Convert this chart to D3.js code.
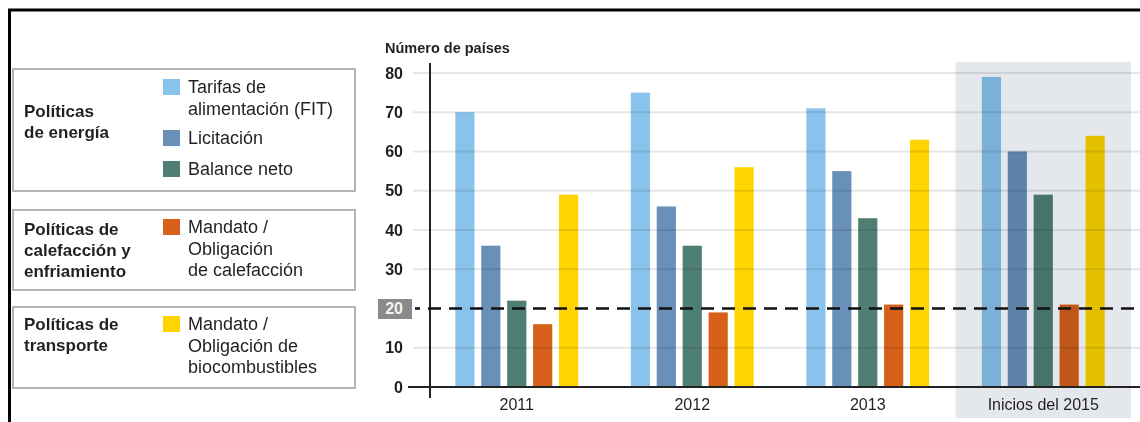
<!DOCTYPE html>
<html>
<head>
<meta charset="utf-8">
<script src="https://cdn.jsdelivr.net/npm/d3@7"></script>
<style>
  body { margin: 0; background: #fff; }
  svg { display: block; font-family: "Liberation Sans", Arial, sans-serif; }
</style>
</head>
<body>
<div id="chart"></div>
<script>
// data
const years = ["2011", "2012", "2013", "Inicios del 2015"];
const seriesKeys = ["fit", "licitacion", "balance", "calefaccion", "biocombustibles"];
const fit = [70, 75, 71, 79];
const licitacion = [36, 46, 55, 60];
const balanceNeto = [22, 36, 43, 49];
const calefaccion = [16, 19, 21, 21];
const biocombustibles = [49, 56, 63, 64];
const yTicks = [0, 10, 20, 30, 40, 50, 60, 70, 80];
const threshold = 20;
const highlightYear = "Inicios del 2015";

const groupTitles = [
  ["Políticas", "de energía"],
  ["Políticas de", "calefacción y", "enfriamiento"],
  ["Políticas de", "transporte"]
];
const seriesLabels = [
  ["Tarifas de", "alimentación (FIT)"],
  ["Licitación"],
  ["Balance neto"],
  ["Mandato /", "Obligación", "de calefacción"],
  ["Mandato /", "Obligación de", "biocombustibles"]
];
const colors = ["#89c3eb", "#6890b8", "#4e7f72", "#d65f1a", "#ffd400"];

const values = [fit, licitacion, balanceNeto, calefaccion, biocombustibles];
const data = years.map((yr, i) => ({
  year: yr,
  bars: seriesKeys.map((k, j) => ({ key: k, value: values[j][i], color: colors[j] }))
}));

const width = 1140, height = 422;
const textColor = "#231f20";

const svg = d3.select("#chart").append("svg")
  .attr("width", width)
  .attr("height", height);

svg.append("rect").attr("width", width).attr("height", height).attr("fill", "#fff");

// frame
svg.append("path")
  .attr("d", "M9.5,422 V10 H1140")
  .attr("fill", "none")
  .attr("stroke", "#000")
  .attr("stroke-width", 3);

var x0 = d3.scaleBand().domain(years).range([429, 1131]).paddingInner(0.3).paddingOuter(0.15);
var x1 = d3.scaleBand().domain(seriesKeys).range([0, x0.bandwidth()]).paddingInner(0.26);
var y = d3.scaleLinear().domain([0, 80]).range([387, 73]);

// highlight background
var half = x0.step() * x0.paddingInner() / 2;
svg.append("rect")
  .attr("x", x0(highlightYear) - half)
  .attr("y", 62)
  .attr("width", x0.bandwidth() + 2 * half)
  .attr("height", 356)
  .attr("fill", "#e4e8ec");

// gridlines
svg.append("g")
  .selectAll("line")
  .data(yTicks.filter(d => d !== 0 && d !== threshold))
  .enter()
  .append("line")
  .attr("x1", 413)
  .attr("x2", width)
  .attr("y1", d => y(d))
  .attr("y2", d => y(d))
  .attr("stroke", "#e6e6e6")
  .attr("stroke-width", 2)
  .style("mix-blend-mode", "multiply");

// bars
svg.append("g")
  .selectAll("g")
  .data(data)
  .enter()
  .append("g")
  .attr("transform", d => "translate(" + x0(d.year) + ",0)")
  .selectAll("rect")
  .data(d => d.bars)
  .enter()
  .append("rect")
  .attr("x", d => x1(d.key))
  .attr("width", x1.bandwidth())
  .attr("y", d => y(d.value))
  .attr("height", d => y(0) - y(d.value))
  .attr("fill", d => d.color)
  .style("mix-blend-mode", "multiply");

// y axis
var yAxis = d3.axisLeft(y).tickValues(yTicks).tickSize(0).tickPadding(27);
var gy = svg.append("g")
  .attr("transform", "translate(430,0)")
  .call(yAxis)
  .call(g => g.select(".domain").remove());
gy.selectAll("text")
  .attr("fill", textColor)
  .style("font-size", "16px")
  .style("font-weight", "bold");

// highlighted threshold label
var thr = gy.selectAll(".tick").filter(d => d === threshold);
thr.insert("rect", "text")
  .attr("x", -52)
  .attr("y", -10)
  .attr("width", 34)
  .attr("height", 20)
  .attr("fill", "#8a8a8a");
thr.select("text").attr("fill", "#f2f2f2");

svg.append("line")
  .attr("x1", 430).attr("x2", 430)
  .attr("y1", 63).attr("y2", 398)
  .attr("stroke", "#222").attr("stroke-width", 2);

svg.append("line")
  .attr("x1", 408).attr("x2", width)
  .attr("y1", y(0)).attr("y2", y(0))
  .attr("stroke", "#222").attr("stroke-width", 2);

// dashed threshold
svg.append("line")
  .attr("x1", 415).attr("x2", width)
  .attr("y1", y(threshold)).attr("y2", y(threshold))
  .attr("stroke", "#111")
  .attr("stroke-width", 2.5)
  .attr("stroke-dasharray", "13,8")
  .attr("stroke-dashoffset", 8);

// x labels
svg.append("g")
  .selectAll("text")
  .data(years)
  .enter()
  .append("text")
  .attr("x", d => x0(d) + x0.bandwidth() / 2)
  .attr("y", 410)
  .attr("text-anchor", "middle")
  .attr("fill", textColor)
  .style("font-size", "16px")
  .text(d => d);

svg.append("text")
  .attr("x", 385)
  .attr("y", 53)
  .attr("fill", textColor)
  .style("font-size", "14.5px")
  .style("font-weight", "bold")
  .text("Número de países");

// legend
var boxes = [[69, 191], [210, 290], [307, 388]];
var titleY = [117, 235, 330];
var itemY = [93, 144, 175, 233, 330];

var lg = svg.append("g");
lg.selectAll("rect.box")
  .data(boxes)
  .enter()
  .append("rect")
  .attr("class", "box")
  .attr("x", 13)
  .attr("y", d => d[0])
  .attr("width", 342)
  .attr("height", d => d[1] - d[0])
  .attr("fill", "none")
  .attr("stroke", "#b4b4b4")
  .attr("stroke-width", 2);

lg.selectAll("text.title")
  .data(groupTitles)
  .enter()
  .append("text")
  .attr("class", "title")
  .attr("x", 24)
  .attr("y", (d, i) => titleY[i])
  .attr("fill", textColor)
  .style("font-size", "17px")
  .style("font-weight", "bold")
  .selectAll("tspan")
  .data(d => d)
  .enter()
  .append("tspan")
  .attr("x", 24)
  .attr("dy", (d, i) => i === 0 ? 0 : 21)
  .text(d => d);

lg.selectAll("rect.sw")
  .data(colors)
  .enter()
  .append("rect")
  .attr("class", "sw")
  .attr("x", 163)
  .attr("y", (d, i) => itemY[i] - 14)
  .attr("width", 17)
  .attr("height", 16)
  .attr("fill", d => d);

lg.selectAll("text.item")
  .data(seriesLabels)
  .enter()
  .append("text")
  .attr("class", "item")
  .attr("x", 188)
  .attr("y", (d, i) => itemY[i])
  .attr("fill", textColor)
  .style("font-size", "18px")
  .selectAll("tspan")
  .data(d => d)
  .enter()
  .append("tspan")
  .attr("x", 188)
  .attr("dy", (d, i) => i === 0 ? 0 : 21.5)
  .text(d => d);
</script>
</body>
</html>
